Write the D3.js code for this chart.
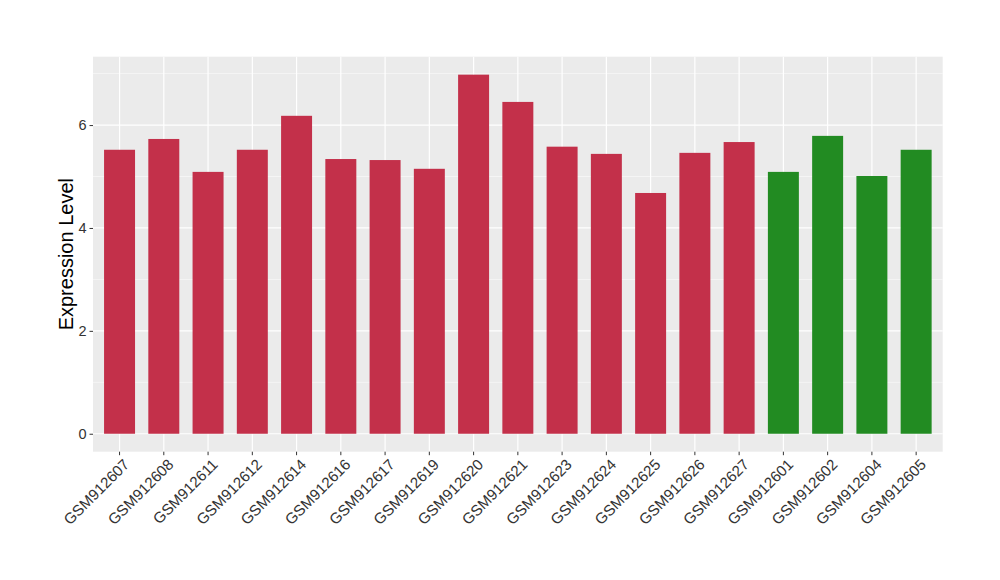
<!DOCTYPE html>
<html><head><meta charset="utf-8">
<script src="https://cdn.jsdelivr.net/npm/d3@7"></script>
<style>body{margin:0;background:#fff;} text{font-family:"Liberation Sans",Arial,Helvetica,sans-serif;}</style>
</head><body>
<svg id="c" width="1000" height="580"></svg>
<script>
const categories = ["GSM912607","GSM912608","GSM912611","GSM912612","GSM912614","GSM912616","GSM912617","GSM912619","GSM912620","GSM912621","GSM912623","GSM912624","GSM912625","GSM912626","GSM912627","GSM912601","GSM912602","GSM912604","GSM912605"];
const values = [5.52,5.73,5.09,5.52,6.18,5.34,5.32,5.15,6.98,6.45,5.58,5.44,4.68,5.46,5.67,5.09,5.79,5.01,5.52];
const groups = ["A","A","A","A","A","A","A","A","A","A","A","A","A","A","A","B","B","B","B"];
const groupColors = {A:"#C3304A", B:"#228B22"};
const yTicks = [0,2,4,6];
const yMinor = [1,3,5,7];
const yLabel = "Expression Level";

const svg = d3.select("#c");
const L = 93, R = 942.7, T = 56.7, B = 451.7;
const ymax = d3.max(values);
const y = d3.scaleLinear().domain([-0.05*ymax, ymax*1.05]).range([B, T]);
const n = categories.length;
const unit = (R - L) / (n - 1 + 1.2);
const x = d3.scaleBand().domain(categories).range([L + 0.6*unit - unit/2, R - 0.6*unit + unit/2]).paddingInner(0.3).paddingOuter(0.15);
const cx = d => x(d) + x.bandwidth()/2;

svg.append("rect").attr("x", L).attr("y", T).attr("width", R - L).attr("height", B - T).attr("fill", "#EBEBEB");
svg.selectAll(".ymin").data(yMinor).enter().append("line")
  .attr("x1", L).attr("x2", R).attr("y1", d => y(d)).attr("y2", d => y(d))
  .attr("stroke", "#fff").attr("stroke-width", 0.6).attr("opacity", 0.9);
svg.selectAll(".ymaj").data(yTicks).enter().append("line")
  .attr("x1", L).attr("x2", R).attr("y1", d => y(d)).attr("y2", d => y(d))
  .attr("stroke", "#fff").attr("stroke-width", 1.2);
svg.selectAll(".xmaj").data(categories).enter().append("line")
  .attr("x1", d => cx(d)).attr("x2", d => cx(d)).attr("y1", T).attr("y2", B)
  .attr("stroke", "#fff").attr("stroke-width", 1.2);

svg.selectAll(".bar").data(categories).enter().append("rect")
  .attr("x", d => x(d)).attr("width", x.bandwidth())
  .attr("y", (d,i) => y(values[i])).attr("height", (d,i) => y(0) - y(values[i]))
  .attr("fill", (d,i) => groupColors[groups[i]]);

const ya = svg.append("g").attr("transform", `translate(${L},0)`)
  .call(d3.axisLeft(y).tickValues(yTicks).tickSize(3.5).tickPadding(3).tickFormat(d3.format("d")));
ya.attr("font-size", null).attr("font-family", null);
ya.select(".domain").remove();
ya.selectAll("line").attr("stroke", "#333").attr("stroke-width", 1);
ya.selectAll("text").attr("fill", "#333").style("font-size", "14.5px");

const xa = svg.append("g").attr("transform", `translate(0,${B})`)
  .call(d3.axisBottom(x).tickSize(3.5).tickFormat(d => d));
xa.attr("font-size", null).attr("font-family", null);
xa.select(".domain").remove();
xa.selectAll("line").attr("stroke", "#333").attr("stroke-width", 1);
xa.selectAll("text")
  .attr("fill", "#333").style("font-size", "15.2px")
  .attr("text-anchor", "end").attr("y", 0).attr("dy", "0.72em")
  .attr("transform", "translate(3,6) rotate(-45)");

svg.append("text").attr("transform", `translate(73,${(T+B)/2}) rotate(-90)`)
  .attr("text-anchor", "middle").style("font-size", "20px").attr("fill", "#000").text(yLabel);
</script>
</body></html>
